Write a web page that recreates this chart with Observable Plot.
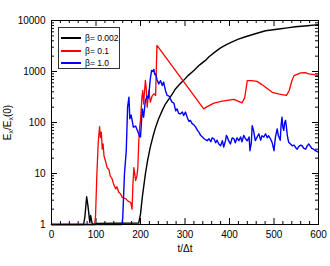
<!DOCTYPE html>
<html>
<head>
<meta charset="utf-8">
<script src="https://cdn.jsdelivr.net/npm/d3@7"></script>
<script src="https://cdn.jsdelivr.net/npm/@observablehq/plot@0.6"></script>
<style>
  body { margin: 0; background: #fff; }
  #wrap { position: relative; width: 330px; height: 266px; font-family: "Liberation Sans", Arial, sans-serif; }
  #legend { position: absolute; left: 58px; top: 27px; width: 62px; height: 42px; border: 1px solid #333; background: #fff; box-sizing: border-box; font-size: 8.5px; }
  .row { position: absolute; left: 2px; height: 10px; display: flex; align-items: center; }
  .sw { width: 20px; height: 2px; margin-right: 4px; }
</style>
</head>
<body>
<div id="wrap"></div>
<script>
// ---- data ----
const series = ["β= 0.002", "β= 0.1", "β= 1.0"];
const colors = ["#000000", "#ff0000", "#0000ff"];

const blackT = [0, 72, 75, 79, 82, 84, 86, 88, 90, 92, 100, 196, 200, 204, 211, 216, 222, 228, 234, 241, 249, 256, 264, 272, 279, 288, 297, 308, 320, 333, 346, 354, 367, 380, 393, 406, 420, 436, 458, 481, 511, 530, 548, 575, 600];
const blackV = [1, 1, 1.4, 3.5, 2.3, 1.6, 1.1, 1.5, 1.2, 1, 1.05, 1.07, 1.6, 3.4, 9.8, 18, 33, 53, 81, 120, 173, 230, 290, 370, 460, 560, 670, 850, 1050, 1350, 1650, 1950, 2400, 2900, 3350, 3800, 4300, 4800, 5500, 6300, 6800, 7150, 7550, 7900, 8300];

const redT = [0, 97, 99, 102, 105, 108, 110, 112, 114, 116, 118, 121, 125, 129, 132, 136, 140, 144, 147, 151, 155, 159, 163, 167, 170, 174, 178, 181, 183, 185, 187, 189, 192, 194, 196, 198, 200, 203, 205, 207, 209, 211, 213, 215, 217, 219, 222, 226, 230, 234, 237, 342, 350, 365, 384, 410, 428, 434, 440, 450, 462, 472, 481, 496, 512, 528, 534, 540, 545, 552, 560, 570, 578, 590, 600];
const redV = [1, 1, 1.5, 10, 40, 83, 51, 65, 30, 38, 22, 18, 13, 12, 9, 7.9, 6, 5, 5.5, 4.3, 4, 3.4, 3.3, 3.2, 3, 2.8, 2.7, 2, 6, 13, 10, 7.3, 9, 13, 40, 80, 110, 300, 425, 230, 400, 670, 450, 200, 300, 425, 250, 330, 365, 340, 3240, 185, 205, 240, 262, 285, 243, 300, 660, 665, 640, 560, 490, 390, 360, 340, 420, 650, 830, 880, 940, 950, 900, 870, 830];

const blueT = [0, 158, 160, 164, 168, 171, 174, 176, 179, 184, 189, 193, 196, 198, 200, 204, 207, 211, 215, 218, 222, 225, 228, 230, 232, 234, 237, 241, 245, 249, 252, 256, 260, 264, 267, 271, 275, 279, 282, 286, 290, 294, 297, 301, 305, 309, 312, 316, 320, 324, 328, 331, 335, 339, 343, 346, 350, 354, 358, 361, 365, 369, 372, 376, 380, 384, 387, 391, 393, 395, 398, 402, 406, 410, 413, 417, 421, 425, 428, 432, 436, 440, 444, 446, 449, 451, 454, 458, 462, 466, 470, 473, 477, 481, 485, 488, 492, 496, 500, 503, 507, 510, 514, 516, 518, 520, 522, 524, 526, 528, 530, 533, 537, 541, 545, 549, 552, 556, 560, 563, 567, 571, 574, 578, 582, 585, 589, 593, 597, 600];
const blueV = [1, 1, 1.3, 10, 28, 200, 315, 118, 140, 81, 85, 70, 60, 53, 52, 185, 127, 270, 330, 300, 720, 1050, 1000, 1100, 870, 900, 700, 570, 660, 530, 620, 425, 340, 330, 290, 250, 240, 170, 185, 150, 148, 160, 137, 160, 125, 105, 110, 95, 90, 81, 70, 65, 56, 52, 48, 46, 44, 48, 42, 50, 48, 40, 45, 38, 35, 44, 33, 44, 56, 52, 44, 38, 50, 48, 40, 50, 44, 52, 42, 56, 48, 44, 52, 28, 40, 87, 70, 44, 52, 60, 45, 55, 52, 60, 50, 55, 48, 40, 28, 50, 75, 55, 45, 90, 127, 80, 70, 100, 110, 80, 55, 41, 38, 35, 36, 32, 30, 34, 36, 35, 31, 30, 34, 38, 34, 31, 30, 28, 27, 26];

const xMajor = [0, 100, 200, 300, 400, 500, 600];
const xMinor = d3.range(0, 601, 20).filter(d => d % 100 !== 0);
const yMajor = [1, 10, 100, 1000, 10000];
const yMinor = [1, 10, 100, 1000].flatMap(p => [2, 3, 4, 5, 6, 7, 8, 9].map(k => k * p));

// ---- layout ----
const W = 330, H = 266, mL = 51, mR = 12, mT = 20, mB = 42;
const fw = W - mL - mR, fh = H - mT - mB;
const big = 6, small = 3;

const chart = Plot.plot({
  width: W, height: H,
  marginLeft: mL, marginRight: mR, marginTop: mT, marginBottom: mB,
  style: { fontFamily: "Liberation Sans, Arial, sans-serif", fontSize: "10px", color: "#000", background: "#fff" },
  x: { domain: [0, 600] },
  y: { type: "log", domain: [1, 10000] },
  marks: [
    Plot.axisX({ ticks: xMajor, tickSize: 0, tickPadding: 6, label: "t/Δt", labelAnchor: "center", labelArrow: "none", labelOffset: 27, fontSize: 10 }),
    Plot.axisY({ ticks: yMajor, tickFormat: d => String(d), tickSize: 0, tickPadding: 6, label: "Ex/Ex(0)", labelAnchor: "center", labelArrow: "none", labelOffset: 48, fontSize: 10 }),
    // inward ticks on four sides
    Plot.tickX(xMajor, { x: d => d, insetTop: fh - big, stroke: "#000" }),
    Plot.tickX(xMinor, { x: d => d, insetTop: fh - small, stroke: "#000" }),
    Plot.tickX(xMajor, { x: d => d, insetBottom: fh - big, stroke: "#000" }),
    Plot.tickX(xMinor, { x: d => d, insetBottom: fh - small, stroke: "#000" }),
    Plot.tickY(yMajor, { y: d => d, insetRight: fw - big, stroke: "#000" }),
    Plot.tickY(yMinor, { y: d => d, insetRight: fw - small, stroke: "#000" }),
    Plot.tickY(yMajor, { y: d => d, insetLeft: fw - big, stroke: "#000" }),
    Plot.tickY(yMinor, { y: d => d, insetLeft: fw - small, stroke: "#000" }),
    Plot.line(blackT, { x: blackT, y: blackV, stroke: colors[0], strokeWidth: 1.4 }),
    Plot.line(redT, { x: redT, y: redV, stroke: colors[1], strokeWidth: 1.3 }),
    Plot.line(blueT, { x: blueT, y: blueV, stroke: colors[2], strokeWidth: 1.4 }),
    Plot.frame({ stroke: "#000", strokeWidth: 1 })
  ]
});

// subscript in y label
d3.select(chart).selectAll("text").each(function () {
  if (this.textContent === "Ex/Ex(0)") {
    const t = d3.select(this);
    t.text(null);
    t.append("tspan").text("E");
    t.append("tspan").attr("dy", 2).attr("font-size", 7).text("x");
    t.append("tspan").attr("dy", -2).text("/E");
    t.append("tspan").attr("dy", 2).attr("font-size", 7).text("x");
    t.append("tspan").attr("dy", -2).text("(0)");
  }
});

const wrap = document.getElementById("wrap");
wrap.appendChild(chart);

// legend
const leg = document.createElement("div");
leg.id = "legend";
series.forEach((s, i) => {
  const r = document.createElement("div");
  r.className = "row";
  r.style.top = (5 + i * 12.5) + "px";
  const sw = document.createElement("span");
  sw.className = "sw";
  sw.style.background = colors[i];
  const tx = document.createElement("span");
  tx.textContent = s;
  r.appendChild(sw); r.appendChild(tx);
  leg.appendChild(r);
});
wrap.appendChild(leg);
</script>
</body>
</html>
